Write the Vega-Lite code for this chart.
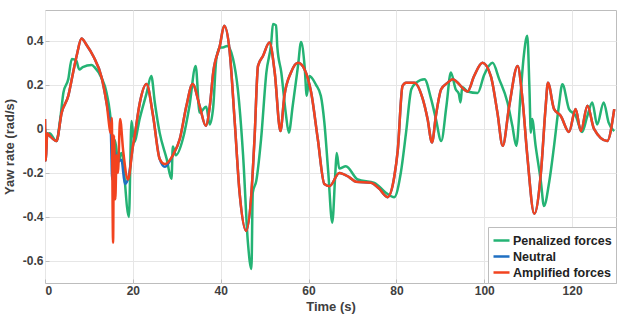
{
  "$schema": "https://vega.github.io/schema/vega-lite/v6.json",
  "width": 571,
  "height": 273,
  "autosize": {"type": "none"},
  "padding": {"left": 45, "top": 10, "right": 18, "bottom": 44},
  "background": "white",
  "config": {
    "font": "Liberation Sans",
    "view": {"stroke": "#bdbdbd", "strokeWidth": 1},
    "axis": {
      "labelFont": "Liberation Sans",
      "labelFontWeight": "bold",
      "labelFontSize": 12,
      "labelColor": "#404040",
      "titleFont": "Liberation Sans",
      "titleFontWeight": "bold",
      "titleFontSize": 13,
      "titleColor": "#404040",
      "gridColor": "#e6e6e6",
      "gridWidth": 1,
      "domain": false,
      "tickColor": "#bdbdbd",
      "tickSize": -4
    }
  },
  "datasets": {
    "pen": [
      {"s":"Penalized forces","t":0,"y":0.0},{"s":"Penalized forces","t":0.3,"y":-0.03},{"s":"Penalized forces","t":1,"y":-0.02},{"s":"Penalized forces","t":2.6,"y":-0.055},{"s":"Penalized forces","t":3.5,"y":0.05},{"s":"Penalized forces","t":4.2,"y":0.165},{"s":"Penalized forces","t":5.3,"y":0.226},{"s":"Penalized forces","t":6.1,"y":0.317},{"s":"Penalized forces","t":7.1,"y":0.31},{"s":"Penalized forces","t":7.8,"y":0.27},{"s":"Penalized forces","t":8.6,"y":0.28},{"s":"Penalized forces","t":10.6,"y":0.29},{"s":"Penalized forces","t":11.3,"y":0.28},{"s":"Penalized forces","t":12.9,"y":0.23},{"s":"Penalized forces","t":14,"y":0.165},{"s":"Penalized forces","t":15.2,"y":-0.017},{"s":"Penalized forces","t":15.4,"y":-0.23},{"s":"Penalized forces","t":15.9,"y":-0.05},{"s":"Penalized forces","t":16.7,"y":-0.15},{"s":"Penalized forces","t":17.4,"y":-0.11},{"s":"Penalized forces","t":19.1,"y":-0.4},{"s":"Penalized forces","t":19.7,"y":0.036},{"s":"Penalized forces","t":20.3,"y":-0.06},{"s":"Penalized forces","t":21.6,"y":0.05},{"s":"Penalized forces","t":23.1,"y":0.16},{"s":"Penalized forces","t":24.2,"y":0.24},{"s":"Penalized forces","t":25,"y":0.12},{"s":"Penalized forces","t":26.1,"y":-0.017},{"s":"Penalized forces","t":27.7,"y":-0.136},{"s":"Penalized forces","t":28.8,"y":-0.227},{"s":"Penalized forces","t":29.1,"y":-0.08},{"s":"Penalized forces","t":29.8,"y":-0.12},{"s":"Penalized forces","t":31.4,"y":-0.045},{"s":"Penalized forces","t":32.9,"y":0.105},{"s":"Penalized forces","t":34.3,"y":0.286},{"s":"Penalized forces","t":35.2,"y":0.074},{"s":"Penalized forces","t":36.7,"y":0.1},{"s":"Penalized forces","t":37.5,"y":0.02},{"s":"Penalized forces","t":38.3,"y":0.1},{"s":"Penalized forces","t":39,"y":0.317},{"s":"Penalized forces","t":39.8,"y":0.37},{"s":"Penalized forces","t":40.5,"y":0.37},{"s":"Penalized forces","t":41.5,"y":0.377},{"s":"Penalized forces","t":42.8,"y":0.32},{"s":"Penalized forces","t":43.9,"y":0.18},{"s":"Penalized forces","t":45.1,"y":-0.12},{"s":"Penalized forces","t":46.2,"y":-0.517},{"s":"Penalized forces","t":47,"y":-0.636},{"s":"Penalized forces","t":47.3,"y":-0.29},{"s":"Penalized forces","t":48.1,"y":-0.236},{"s":"Penalized forces","t":49.2,"y":-0.045},{"s":"Penalized forces","t":50.4,"y":0.256},{"s":"Penalized forces","t":51.5,"y":0.39},{"s":"Penalized forces","t":51.9,"y":0.476},{"s":"Penalized forces","t":52.6,"y":0.47},{"s":"Penalized forces","t":52.9,"y":0.37},{"s":"Penalized forces","t":53.8,"y":0.256},{"s":"Penalized forces","t":54.8,"y":0.074},{"s":"Penalized forces","t":55.5,"y":-0.017},{"s":"Penalized forces","t":56.4,"y":0.105},{"s":"Penalized forces","t":57.6,"y":0.286},{"s":"Penalized forces","t":58.3,"y":0.395},{"s":"Penalized forces","t":59.1,"y":0.286},{"s":"Penalized forces","t":59.6,"y":0.15},{"s":"Penalized forces","t":60.2,"y":0.24},{"s":"Penalized forces","t":61.7,"y":0.2},{"s":"Penalized forces","t":62.8,"y":0.15},{"s":"Penalized forces","t":63.6,"y":0.03},{"s":"Penalized forces","t":64.5,"y":-0.2},{"s":"Penalized forces","t":65.4,"y":-0.426},{"s":"Penalized forces","t":66.1,"y":-0.2},{"s":"Penalized forces","t":66.4,"y":-0.11},{"s":"Penalized forces","t":67,"y":-0.18},{"s":"Penalized forces","t":68.5,"y":-0.17},{"s":"Penalized forces","t":71.2,"y":-0.23},{"s":"Penalized forces","t":75,"y":-0.245},{"s":"Penalized forces","t":77.6,"y":-0.29},{"s":"Penalized forces","t":79.5,"y":-0.31},{"s":"Penalized forces","t":81,"y":-0.2},{"s":"Penalized forces","t":82.2,"y":-0.017},{"s":"Penalized forces","t":83.4,"y":0.18},{"s":"Penalized forces","t":84.5,"y":0.21},{"s":"Penalized forces","t":86.4,"y":0.226},{"s":"Penalized forces","t":87.9,"y":0.136},{"s":"Penalized forces","t":89,"y":0.045},{"s":"Penalized forces","t":90.2,"y":-0.055},{"s":"Penalized forces","t":91.4,"y":0.105},{"s":"Penalized forces","t":92.4,"y":0.256},{"s":"Penalized forces","t":93.5,"y":0.18},{"s":"Penalized forces","t":94.2,"y":0.16},{"s":"Penalized forces","t":94.6,"y":0.12},{"s":"Penalized forces","t":95,"y":0.19},{"s":"Penalized forces","t":96.2,"y":0.17},{"s":"Penalized forces","t":98.5,"y":0.163},{"s":"Penalized forces","t":100,"y":0.246},{"s":"Penalized forces","t":101.9,"y":0.3},{"s":"Penalized forces","t":103.4,"y":0.226},{"s":"Penalized forces","t":105.3,"y":0.12},{"s":"Penalized forces","t":106.4,"y":0.014},{"s":"Penalized forces","t":107.3,"y":-0.077},{"s":"Penalized forces","t":108.3,"y":0.165},{"s":"Penalized forces","t":109,"y":0.33},{"s":"Penalized forces","t":109.8,"y":0.423},{"s":"Penalized forces","t":110.3,"y":0.18},{"s":"Penalized forces","t":110.6,"y":-0.017},{"s":"Penalized forces","t":110.9,"y":0.045},{"s":"Penalized forces","t":111.7,"y":-0.077},{"s":"Penalized forces","t":112.9,"y":-0.24},{"s":"Penalized forces","t":113.6,"y":-0.35},{"s":"Penalized forces","t":114.8,"y":-0.24},{"s":"Penalized forces","t":115.9,"y":-0.077},{"s":"Penalized forces","t":117,"y":0.105},{"s":"Penalized forces","t":117.8,"y":0.203},{"s":"Penalized forces","t":119.3,"y":0.09},{"s":"Penalized forces","t":120.8,"y":0.06},{"s":"Penalized forces","t":122.3,"y":-0.014},{"s":"Penalized forces","t":123.5,"y":0.06},{"s":"Penalized forces","t":124.6,"y":0.12},{"s":"Penalized forces","t":125.7,"y":0.02},{"s":"Penalized forces","t":127.2,"y":0.12},{"s":"Penalized forces","t":128.3,"y":0.03},{"s":"Penalized forces","t":129.6,"y":-0.01}
    ],
    "neu": [
      {"s":"Neutral","t":0,"y":0.045},{"s":"Neutral","t":0.2,"y":-0.145},{"s":"Neutral","t":0.5,"y":-0.02},{"s":"Neutral","t":1,"y":-0.03},{"s":"Neutral","t":2.6,"y":-0.055},{"s":"Neutral","t":3.8,"y":0.074},{"s":"Neutral","t":5.3,"y":0.15},{"s":"Neutral","t":6.4,"y":0.256},{"s":"Neutral","t":7.3,"y":0.34},{"s":"Neutral","t":8.3,"y":0.41},{"s":"Neutral","t":9.5,"y":0.38},{"s":"Neutral","t":11,"y":0.33},{"s":"Neutral","t":12.9,"y":0.233},{"s":"Neutral","t":14,"y":0.12},{"s":"Neutral","t":15,"y":-0.02},{"s":"Neutral","t":15.3,"y":-0.23},{"s":"Neutral","t":15.8,"y":-0.1},{"s":"Neutral","t":16.5,"y":-0.15},{"s":"Neutral","t":17.4,"y":-0.14},{"s":"Neutral","t":18.2,"y":-0.25},{"s":"Neutral","t":19,"y":-0.22},{"s":"Neutral","t":20,"y":-0.08},{"s":"Neutral","t":20.5,"y":-0.02},{"s":"Neutral","t":21.6,"y":0.12},{"s":"Neutral","t":23.1,"y":0.204},{"s":"Neutral","t":24.6,"y":0.06},{"s":"Neutral","t":26.1,"y":-0.136},{"s":"Neutral","t":27.3,"y":-0.172},{"s":"Neutral","t":29.1,"y":-0.12},{"s":"Neutral","t":30.7,"y":-0.045},{"s":"Neutral","t":32.2,"y":0.105},{"s":"Neutral","t":33.6,"y":0.204},{"s":"Neutral","t":35.2,"y":0.105},{"s":"Neutral","t":36.6,"y":0.014},{"s":"Neutral","t":37.5,"y":0.1},{"s":"Neutral","t":38.3,"y":0.256},{"s":"Neutral","t":39.8,"y":0.377},{"s":"Neutral","t":40.8,"y":0.468},{"s":"Neutral","t":42,"y":0.36},{"s":"Neutral","t":43.2,"y":0.03},{"s":"Neutral","t":44.3,"y":-0.29},{"s":"Neutral","t":45.8,"y":-0.464},{"s":"Neutral","t":47,"y":-0.29},{"s":"Neutral","t":47.7,"y":-0.045},{"s":"Neutral","t":48.5,"y":0.286},{"s":"Neutral","t":49.6,"y":0.33},{"s":"Neutral","t":51.1,"y":0.392},{"s":"Neutral","t":52.3,"y":0.256},{"s":"Neutral","t":53.6,"y":-0.01},{"s":"Neutral","t":54.5,"y":0.15},{"s":"Neutral","t":56,"y":0.256},{"s":"Neutral","t":57.6,"y":0.3},{"s":"Neutral","t":59.1,"y":0.27},{"s":"Neutral","t":60.6,"y":0.165},{"s":"Neutral","t":62.1,"y":-0.045},{"s":"Neutral","t":63.6,"y":-0.25},{"s":"Neutral","t":64.8,"y":-0.26},{"s":"Neutral","t":67,"y":-0.2},{"s":"Neutral","t":69.3,"y":-0.22},{"s":"Neutral","t":70.8,"y":-0.24},{"s":"Neutral","t":74.2,"y":-0.245},{"s":"Neutral","t":76,"y":-0.27},{"s":"Neutral","t":78,"y":-0.31},{"s":"Neutral","t":79.5,"y":-0.22},{"s":"Neutral","t":80.3,"y":-0.1},{"s":"Neutral","t":81.4,"y":0.195},{"s":"Neutral","t":82.2,"y":0.21},{"s":"Neutral","t":84.1,"y":0.21},{"s":"Neutral","t":86,"y":0.136},{"s":"Neutral","t":87.1,"y":0.045},{"s":"Neutral","t":88.1,"y":-0.062},{"s":"Neutral","t":89,"y":0.06},{"s":"Neutral","t":90.2,"y":0.18},{"s":"Neutral","t":91.7,"y":0.21},{"s":"Neutral","t":92.8,"y":0.226},{"s":"Neutral","t":96.2,"y":0.17},{"s":"Neutral","t":97.7,"y":0.24},{"s":"Neutral","t":99.6,"y":0.3},{"s":"Neutral","t":101.5,"y":0.24},{"s":"Neutral","t":103,"y":0.074},{"s":"Neutral","t":104.2,"y":-0.077},{"s":"Neutral","t":105.7,"y":0.105},{"s":"Neutral","t":107.6,"y":0.286},{"s":"Neutral","t":108.7,"y":0.136},{"s":"Neutral","t":109.8,"y":-0.12},{"s":"Neutral","t":111.4,"y":-0.386},{"s":"Neutral","t":112.9,"y":-0.2},{"s":"Neutral","t":114,"y":0.105},{"s":"Neutral","t":114.5,"y":0.21},{"s":"Neutral","t":115.9,"y":0.09},{"s":"Neutral","t":117.4,"y":0.06},{"s":"Neutral","t":119.3,"y":-0.014},{"s":"Neutral","t":120.8,"y":0.09},{"s":"Neutral","t":122,"y":-0.01},{"s":"Neutral","t":123.5,"y":0.105},{"s":"Neutral","t":125,"y":0},{"s":"Neutral","t":128,"y":-0.055},{"s":"Neutral","t":129.6,"y":0.09}
    ],
    "amp": [
      {"s":"Amplified forces","t":0,"y":0.045},{"s":"Amplified forces","t":0.2,"y":-0.145},{"s":"Amplified forces","t":0.5,"y":-0.02},{"s":"Amplified forces","t":1,"y":-0.03},{"s":"Amplified forces","t":2.6,"y":-0.055},{"s":"Amplified forces","t":3.8,"y":0.074},{"s":"Amplified forces","t":5.3,"y":0.15},{"s":"Amplified forces","t":6.4,"y":0.256},{"s":"Amplified forces","t":7.3,"y":0.34},{"s":"Amplified forces","t":8.3,"y":0.41},{"s":"Amplified forces","t":9.5,"y":0.38},{"s":"Amplified forces","t":11,"y":0.33},{"s":"Amplified forces","t":12.9,"y":0.233},{"s":"Amplified forces","t":14,"y":0.12},{"s":"Amplified forces","t":15,"y":-0.02},{"s":"Amplified forces","t":15.2,"y":0.05},{"s":"Amplified forces","t":15.5,"y":-0.517},{"s":"Amplified forces","t":15.7,"y":-0.03},{"s":"Amplified forces","t":16,"y":-0.32},{"s":"Amplified forces","t":16.3,"y":-0.12},{"s":"Amplified forces","t":16.6,"y":-0.2},{"s":"Amplified forces","t":17.1,"y":0.045},{"s":"Amplified forces","t":17.8,"y":-0.1},{"s":"Amplified forces","t":18.9,"y":-0.23},{"s":"Amplified forces","t":20,"y":-0.08},{"s":"Amplified forces","t":20.5,"y":-0.02},{"s":"Amplified forces","t":21.6,"y":0.12},{"s":"Amplified forces","t":23.1,"y":0.204},{"s":"Amplified forces","t":24.6,"y":0.06},{"s":"Amplified forces","t":26.1,"y":-0.136},{"s":"Amplified forces","t":27.3,"y":-0.16},{"s":"Amplified forces","t":29.1,"y":-0.12},{"s":"Amplified forces","t":30.7,"y":-0.045},{"s":"Amplified forces","t":32.2,"y":0.105},{"s":"Amplified forces","t":33.6,"y":0.204},{"s":"Amplified forces","t":35.2,"y":0.105},{"s":"Amplified forces","t":36.6,"y":0.014},{"s":"Amplified forces","t":37.5,"y":0.1},{"s":"Amplified forces","t":38.3,"y":0.256},{"s":"Amplified forces","t":39.8,"y":0.377},{"s":"Amplified forces","t":40.8,"y":0.468},{"s":"Amplified forces","t":42,"y":0.36},{"s":"Amplified forces","t":43.2,"y":0.03},{"s":"Amplified forces","t":44.3,"y":-0.29},{"s":"Amplified forces","t":45.8,"y":-0.464},{"s":"Amplified forces","t":47,"y":-0.29},{"s":"Amplified forces","t":47.7,"y":-0.045},{"s":"Amplified forces","t":48.5,"y":0.286},{"s":"Amplified forces","t":49.6,"y":0.33},{"s":"Amplified forces","t":51.1,"y":0.392},{"s":"Amplified forces","t":52.3,"y":0.256},{"s":"Amplified forces","t":53.6,"y":-0.01},{"s":"Amplified forces","t":54.5,"y":0.15},{"s":"Amplified forces","t":56,"y":0.256},{"s":"Amplified forces","t":57.6,"y":0.3},{"s":"Amplified forces","t":59.1,"y":0.27},{"s":"Amplified forces","t":60.6,"y":0.165},{"s":"Amplified forces","t":62.1,"y":-0.045},{"s":"Amplified forces","t":63.6,"y":-0.25},{"s":"Amplified forces","t":64.8,"y":-0.26},{"s":"Amplified forces","t":67,"y":-0.2},{"s":"Amplified forces","t":69.3,"y":-0.22},{"s":"Amplified forces","t":70.8,"y":-0.24},{"s":"Amplified forces","t":74.2,"y":-0.245},{"s":"Amplified forces","t":76,"y":-0.27},{"s":"Amplified forces","t":78,"y":-0.31},{"s":"Amplified forces","t":79.5,"y":-0.22},{"s":"Amplified forces","t":80.3,"y":-0.1},{"s":"Amplified forces","t":81.4,"y":0.195},{"s":"Amplified forces","t":82.2,"y":0.21},{"s":"Amplified forces","t":84.1,"y":0.21},{"s":"Amplified forces","t":86,"y":0.136},{"s":"Amplified forces","t":87.1,"y":0.045},{"s":"Amplified forces","t":88.1,"y":-0.062},{"s":"Amplified forces","t":89,"y":0.06},{"s":"Amplified forces","t":90.2,"y":0.18},{"s":"Amplified forces","t":91.7,"y":0.21},{"s":"Amplified forces","t":92.8,"y":0.226},{"s":"Amplified forces","t":96.2,"y":0.17},{"s":"Amplified forces","t":97.7,"y":0.24},{"s":"Amplified forces","t":99.6,"y":0.3},{"s":"Amplified forces","t":101.5,"y":0.24},{"s":"Amplified forces","t":103,"y":0.074},{"s":"Amplified forces","t":104.2,"y":-0.077},{"s":"Amplified forces","t":105.7,"y":0.105},{"s":"Amplified forces","t":107.6,"y":0.286},{"s":"Amplified forces","t":108.7,"y":0.136},{"s":"Amplified forces","t":109.8,"y":-0.12},{"s":"Amplified forces","t":111.4,"y":-0.386},{"s":"Amplified forces","t":112.9,"y":-0.2},{"s":"Amplified forces","t":114,"y":0.105},{"s":"Amplified forces","t":114.5,"y":0.21},{"s":"Amplified forces","t":115.9,"y":0.09},{"s":"Amplified forces","t":117.4,"y":0.06},{"s":"Amplified forces","t":119.3,"y":-0.014},{"s":"Amplified forces","t":120.8,"y":0.09},{"s":"Amplified forces","t":122,"y":-0.01},{"s":"Amplified forces","t":123.5,"y":0.105},{"s":"Amplified forces","t":125,"y":0},{"s":"Amplified forces","t":128,"y":-0.055},{"s":"Amplified forces","t":129.6,"y":0.09}
    ]
  },
  "encoding": {
    "x": {
      "field": "t", "type": "quantitative", "title": "Time (s)",
      "scale": {"domain": [0, 130], "nice": false},
      "axis": {"values": [0, 20, 40, 60, 80, 100, 120], "titlePadding": 4, "labelPadding": 6}
    },
    "y": {
      "field": "y", "type": "quantitative", "title": "Yaw rate (rad/s)",
      "scale": {"domain": [-0.7, 0.54], "nice": false, "zero": false},
      "axis": {"values": [-0.6, -0.4, -0.2, 0, 0.2, 0.4], "labelExpr": "replace(format(datum.value, '.1~f'), '\u2212', '-')", "titlePadding": 6, "labelPadding": 6}
    },
    "color": {
      "field": "s", "type": "nominal",
      "scale": {"domain": ["Penalized forces", "Neutral", "Amplified forces"], "range": ["#24b374", "#1f6fc2", "#f2431f"]},
      "legend": {
        "title": null,
        "orient": "bottom-right",
        "offset": 0,
        "padding": 4,
        "rowPadding": 0,
        "symbolType": "stroke",
        "symbolSize": 256,
        "symbolStrokeWidth": 2.5,
        "labelFont": "Liberation Sans",
        "labelFontWeight": "bold",
        "labelFontSize": 12.5,
        "labelColor": "#222222",
        "labelOffset": 2,
        "fillColor": "white",
        "strokeColor": "#bdbdbd"
      }
    }
  },
  "layer": [
    {"data": {"name": "pen"}, "mark": {"type": "line", "strokeWidth": 2.5, "clip": true, "interpolate": "monotone"}},
    {"data": {"name": "neu"}, "mark": {"type": "line", "strokeWidth": 2.5, "clip": true, "interpolate": "monotone"}},
    {"data": {"name": "amp"}, "mark": {"type": "line", "strokeWidth": 2.5, "clip": true, "interpolate": "monotone"}}
  ]
}
